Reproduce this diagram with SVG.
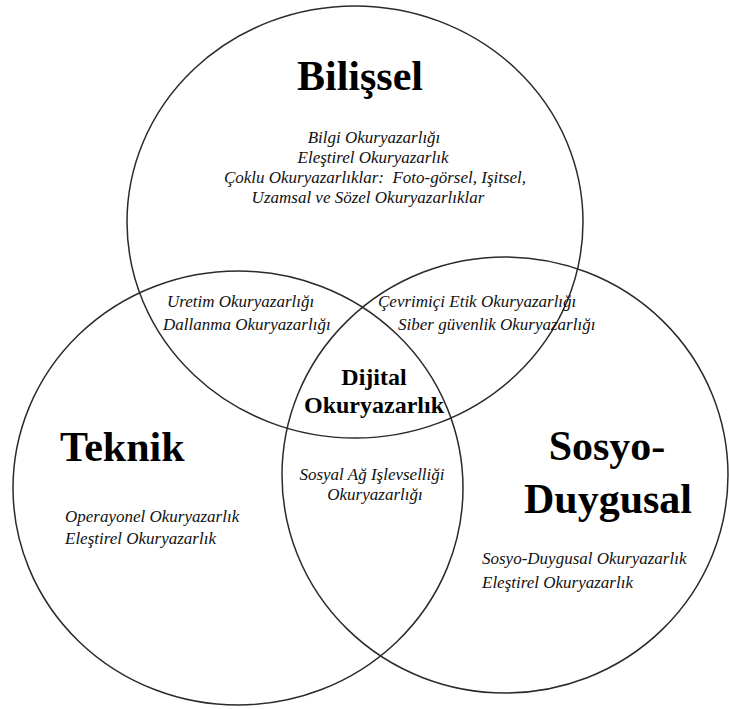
<svg xmlns="http://www.w3.org/2000/svg" width="729" height="709" viewBox="0 0 729 709">
  <style>
    .ring { fill: none; stroke: #2a2a2a; stroke-width: 1.5; }
    .title { font-family: "Liberation Serif", "Times New Roman", serif; font-weight: bold; font-size: 42px; fill: #000; }
    .core { font-family: "Liberation Serif", "Times New Roman", serif; font-weight: bold; font-size: 24px; fill: #000; }
    .item { font-family: "Liberation Serif", "Times New Roman", serif; font-style: italic; font-size: 17px; fill: #111; }
    .mid { text-anchor: middle; }
  </style>
  <rect width="729" height="709" fill="#fff"/>
  <g id="connectors"></g>
  <g id="bilissel">
    <ellipse class="ring" cx="355" cy="222" rx="228" ry="216"/>
    <text class="title mid" x="360" y="90" font-size="43">Bilişsel</text>
    <text class="item mid" x="374" y="143">Bilgi Okuryazarlığı</text>
    <text class="item mid" x="373" y="163">Eleştirel Okuryazarlık</text>
    <text class="item mid" x="375" y="183">Çoklu Okuryazarlıklar:&#160; Foto-görsel, Işitsel,</text>
    <text class="item mid" x="368" y="203">Uzamsal ve Sözel Okuryazarlıklar</text>
  </g>
  <g id="teknik">
    <ellipse class="ring" cx="238" cy="488" rx="225" ry="217"/>
    <text class="title" x="60" y="461">Teknik</text>
    <text class="item" x="65" y="522">Operayonel Okuryazarlık</text>
    <text class="item" x="65" y="544">Eleştirel Okuryazarlık</text>
  </g>
  <g id="sosyo-duygusal">
    <ellipse class="ring" cx="505" cy="475" rx="223" ry="218"/>
    <text class="title mid" x="607" y="460">Sosyo-</text>
    <text class="title mid" x="608" y="513">Duygusal</text>
    <text class="item" x="482" y="564">Sosyo-Duygusal Okuryazarlık</text>
    <text class="item" x="482" y="588">Eleştirel Okuryazarlık</text>
  </g>
  <g id="bilissel-teknik">
    <text class="item" x="167" y="307">Uretim Okuryazarlığı</text>
    <text class="item" x="163" y="330">Dallanma Okuryazarlığı</text>
  </g>
  <g id="bilissel-sosyo">
    <text class="item" x="378" y="307">Çevrimiçi Etik Okuryazarlığı</text>
    <text class="item" x="398" y="330">Siber güvenlik Okuryazarlığı</text>
  </g>
  <g id="teknik-sosyo">
    <text class="item mid" x="372" y="480">Sosyal Ağ Işlevselliği</text>
    <text class="item mid" x="375" y="500">Okuryazarlığı</text>
  </g>
  <g id="dijital">
    <text class="core mid" x="374" y="385">Dijital</text>
    <text class="core mid" x="374" y="413">Okuryazarlık</text>
  </g>
</svg>
